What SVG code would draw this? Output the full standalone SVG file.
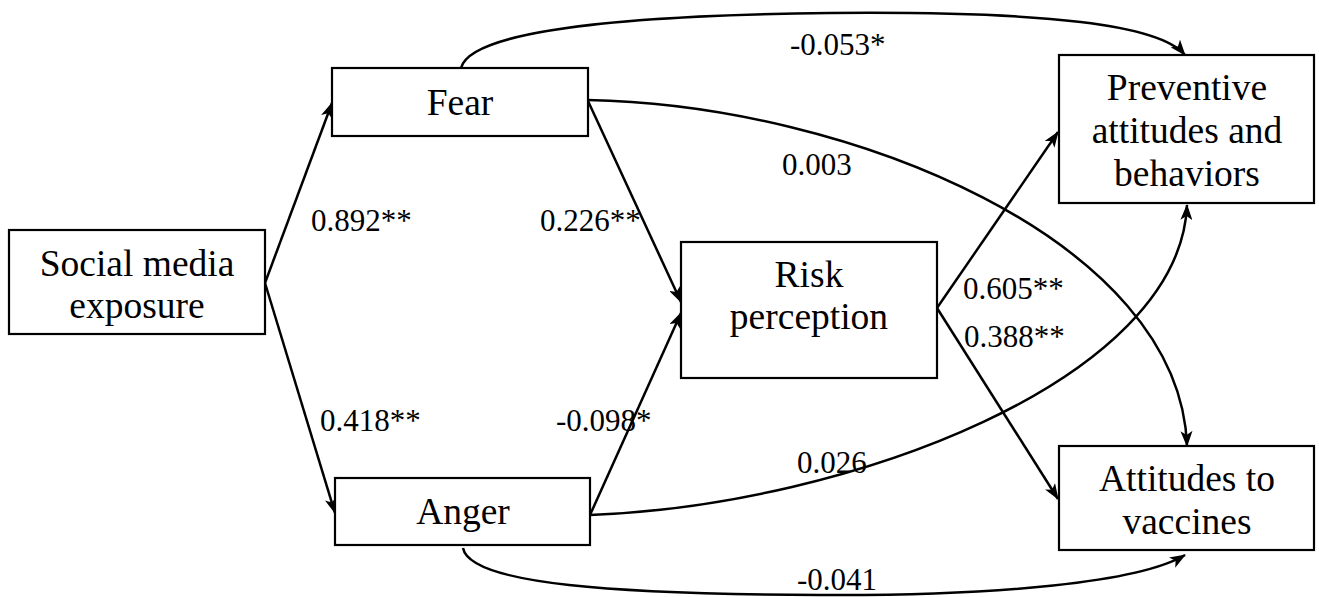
<svg xmlns="http://www.w3.org/2000/svg" width="1319" height="597" viewBox="0 0 1319 597">
<style>
.box{fill:#fff;stroke:#000;stroke-width:2.2}
.nt{font-family:"Liberation Serif","Times New Roman",serif;font-size:37.5px;fill:#000;text-anchor:middle}
.lb{font-family:"Liberation Serif","Times New Roman",serif;font-size:31px;fill:#000}
.c{fill:none;stroke:#000;stroke-width:2.5;marker-end:url(#ah)}
</style>
<defs>
<marker id="ah" markerUnits="userSpaceOnUse" markerWidth="16" markerHeight="12" viewBox="0 0 16 12" refX="15" refY="6" orient="auto">
<path d="M0,0 L16,6 L0,12 L4,6 z" fill="#000"/>
</marker>
</defs>
<rect width="1319" height="597" fill="#fff"/>
<g id="connectors">
<path class="c" d="M265,283 L332,103"/>
<path class="c" d="M265,283 L335,513"/>
<path class="c" d="M588,101 L681,302"/>
<path class="c" d="M590,515 L681,313"/>
<path class="c" d="M937,308 L1058,132"/>
<path class="c" d="M937,308 L1058,499"/>
<path class="c" d="M461,68 C468,40 560,16 830,13 C1050,11 1160,25 1185,55"/>
<path class="c" d="M588,100 C850,105 1180,240 1187,446"/>
<path class="c" d="M590,515 C850,505 1180,380 1187,205"/>
<path class="c" d="M463,548 C470,585 620,594 820,595 C1000,596 1140,582 1185,555"/>
</g>
<g id="labels">
<text class="lb" x="311" y="231">0.892**</text>
<text class="lb" x="540" y="231">0.226**</text>
<text class="lb" x="790" y="55">-0.053*</text>
<text class="lb" x="782" y="175">0.003</text>
<text class="lb" x="963" y="299">0.605**</text>
<text class="lb" x="964" y="347">0.388**</text>
<text class="lb" x="320" y="431">0.418**</text>
<text class="lb" x="556" y="431">-0.098*</text>
<text class="lb" x="797" y="473">0.026</text>
<text class="lb" x="797" y="590">-0.041</text>
</g>
<g id="social">
<rect class="box" x="9" y="230" width="256" height="104"/>
<text class="nt" x="137" y="276">Social media</text>
<text class="nt" x="137" y="318">exposure</text>
</g>
<g id="fear">
<rect class="box" x="332" y="68" width="256" height="68"/>
<text class="nt" x="460" y="115">Fear</text>
</g>
<g id="anger">
<rect class="box" x="335" y="478" width="255" height="67"/>
<text class="nt" x="463" y="524">Anger</text>
</g>
<g id="risk">
<rect class="box" x="681" y="242" width="256" height="136"/>
<text class="nt" x="809" y="287">Risk</text>
<text class="nt" x="809" y="329">perception</text>
</g>
<g id="preventive">
<rect class="box" x="1059" y="55" width="255" height="148"/>
<text class="nt" x="1187" y="100">Preventive</text>
<text class="nt" x="1187" y="143">attitudes and</text>
<text class="nt" x="1187" y="186">behaviors</text>
</g>
<g id="vaccines">
<rect class="box" x="1059" y="446" width="255" height="104"/>
<text class="nt" x="1187" y="491">Attitudes to</text>
<text class="nt" x="1187" y="534">vaccines</text>
</g>
</svg>
